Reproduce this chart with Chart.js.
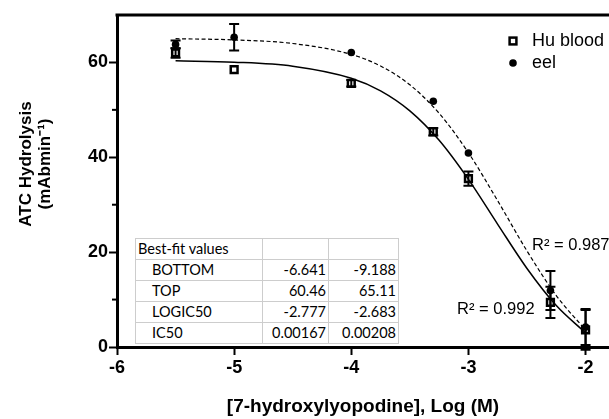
<!DOCTYPE html>
<html>
<head>
<meta charset="utf-8">
<script src="https://cdn.jsdelivr.net/npm/chart.js@4/dist/chart.umd.min.js"></script>
<style>
  html, body { margin: 0; padding: 0; background: #fff; overflow: hidden; }
  #wrap { position: relative; width: 609px; height: 419px; }
  #fitTable {
    position: absolute; left: 135px; top: 238px;
    border-collapse: collapse; table-layout: fixed; width: 263px;
    font-family: Lato, "Open Sans", sans-serif; font-size: 14.5px; color: #000;
    background: #fff;
  }
  #fitTable td { border: 1.5px solid #cdcdcd; padding: 0 2px; height: 20px; line-height: 18px; white-space: nowrap; overflow: hidden; }
  #fitTable td.num { text-align: right; }
  #fitTable td.indent { padding-left: 16px; }
</style>
</head>
<body>
<div id="wrap">
  <canvas id="chart" width="609" height="419"></canvas>
  <table id="fitTable">
    <colgroup><col style="width:127px"><col style="width:66px"><col style="width:70px"></colgroup>
    <tbody></tbody>
  </table>
</div>
<script>
// measured points (log M) and activity
const doseX = [-5.5, -5, -4, -3.3, -3, -2.3, -2];
const huY   = [62.0, 58.5, 55.6, 45.4, 35.5, 9.4, 3.6];
const huErr = [1.0, 0, 0.7, 0.8, 1.5, 3.3, 4.2];
const eelY   = [63.8, 65.3, 62.1, 51.8, 40.9, 11.9, 4.2];
const eelErr = [0.8, 2.8, 0, 0, 0, 4.1, 3.8];

// fitted curves
const fitX     = [-5.5, -5, -4.5, -4, -3.75, -3.5, -3.25, -3, -2.75, -2.5, -2.25, -2];
const huFitY   = [60.33, 60.06, 59.21, 56.67, 54.01, 49.79, 43.57, 35.34, 25.87, 16.56, 8.73, 2.97];
const eelFitY  = [65.00, 64.75, 63.99, 61.69, 59.24, 55.28, 49.27, 40.95, 30.82, 20.25, 10.84, 3.58];

// best-fit table
const fitRowLabels = ['BOTTOM', 'TOP', 'LOGIC50', 'IC50'];
const huFitVals    = ['-6.641', '60.46', '-2.777', '0.00167'];
const eelFitVals   = ['-9.188', '65.11', '-2.683', '0.00208'];

// R² labels
const r2Text = ['R\u00B2 = 0.987', 'R\u00B2 = 0.992'];
const r2X = [-2.457, -3.097];
const r2Y = [21.5, 8.0];

const yTickLabels = [0, 20, 40, 60];
const minorY = [10, 30, 50];
const yTitle = ['ATC Hydrolysis', '(mAbmin\u207B\u00B9)'];

const ARIAL = '"Liberation Sans", Arial, sans-serif';

// table
const tbody = document.querySelector('#fitTable tbody');
tbody.innerHTML = '<tr><td>Best-fit values</td><td></td><td></td></tr>' +
  fitRowLabels.map((l, i) =>
    `<tr><td class="indent">${l}</td><td class="num">${huFitVals[i]}</td><td class="num">${eelFitVals[i]}</td></tr>`
  ).join('');

const toPts = (xs, ys) => xs.map((x, i) => ({ x: x, y: ys[i] }));

// error bars drawn through the library scales
const errorBars = {
  id: 'errorBars',
  afterDatasetsDraw(chart) {
    const ctx = chart.ctx;
    const xs = chart.scales.x, ys = chart.scales.y;
    [[huY, huErr], [eelY, eelErr]].forEach(([vals, errs]) => {
      vals.forEach((v, i) => {
        if (!errs[i]) return;
        const px = xs.getPixelForValue(doseX[i]);
        const top = ys.getPixelForValue(v + errs[i]);
        const bot = ys.getPixelForValue(v - errs[i]);
        ctx.save();
        ctx.strokeStyle = '#000';
        ctx.lineWidth = 2;
        ctx.beginPath();
        ctx.moveTo(px, top); ctx.lineTo(px, bot);
        ctx.moveTo(px - 5, top); ctx.lineTo(px + 5, top);
        ctx.moveTo(px - 5, bot); ctx.lineTo(px + 5, bot);
        ctx.stroke();
        ctx.restore();
      });
    });
  }
};

// top frame line, minor y ticks, y title, legend, R² labels
const extras = {
  id: 'extras',
  afterDraw(chart) {
    const ctx = chart.ctx;
    const a = chart.chartArea;
    const ys = chart.scales.y, xs = chart.scales.x;
    ctx.save();
    ctx.strokeStyle = '#000';
    ctx.lineWidth = 3;
    ctx.beginPath();
    ctx.moveTo(a.left - 1.5, a.top);
    ctx.lineTo(chart.width, a.top);
    ctx.stroke();

    ctx.lineWidth = 2;
    minorY.forEach(v => {
      const py = ys.getPixelForValue(v);
      ctx.beginPath();
      ctx.moveTo(a.left - 5, py);
      ctx.lineTo(a.left, py);
      ctx.stroke();
    });

    // y axis title, a bit above the middle as in the source
    ctx.fillStyle = '#000';
    ctx.save();
    ctx.translate(26, 164);
    ctx.rotate(-Math.PI / 2);
    ctx.font = 'bold 17px ' + ARIAL;
    ctx.textAlign = 'center';
    ctx.textBaseline = 'middle';
    ctx.fillText(yTitle[0], 0, 0);
    ctx.fillText(yTitle[1], 0, 19);
    ctx.restore();

    // legend
    const lx = a.right - 96, ly = a.top + 26;
    ctx.lineWidth = 2.5;
    ctx.strokeRect(lx - 3.4, ly - 3.4, 6.8, 6.8);
    ctx.beginPath();
    ctx.arc(lx, ly + 22, 3.8, 0, Math.PI * 2);
    ctx.fill();
    ctx.font = '18px ' + ARIAL;
    ctx.textBaseline = 'middle';
    ctx.textAlign = 'left';
    ctx.fillText('Hu blood', lx + 19, ly);
    ctx.fillText('eel', lx + 19, ly + 22);

    ctx.font = '16.5px ' + ARIAL;
    r2Text.forEach((t, i) => {
      ctx.fillText(t, xs.getPixelForValue(r2X[i]), ys.getPixelForValue(r2Y[i]));
    });
    ctx.restore();
  }
};

new Chart(document.getElementById('chart'), {
  type: 'scatter',
  data: {
    datasets: [
      {
        label: 'Hu blood',
        data: toPts(doseX, huY),
        pointStyle: 'rect',
        pointRadius: 4.8,
        pointBorderWidth: 2.5,
        borderColor: '#000',
        backgroundColor: 'rgba(0,0,0,0)'
      },
      {
        label: 'eel',
        data: toPts(doseX, eelY),
        pointStyle: 'circle',
        pointRadius: 3.8,
        pointBorderWidth: 0,
        borderColor: '#000',
        backgroundColor: '#000'
      },
      {
        label: 'Hu blood fit',
        data: toPts(fitX, huFitY),
        showLine: true,
        pointRadius: 0,
        borderColor: '#000',
        borderWidth: 1.5,
        cubicInterpolationMode: 'monotone'
      },
      {
        label: 'eel fit',
        data: toPts(fitX, eelFitY),
        showLine: true,
        pointRadius: 0,
        borderColor: '#000',
        borderWidth: 1.2,
        borderDash: [4, 2.5],
        cubicInterpolationMode: 'monotone'
      }
    ]
  },
  options: {
    responsive: false,
    animation: false,
    layout: { autoPadding: false, padding: { top: 15, left: 0, right: 0, bottom: 0 } },
    plugins: {
      legend: { display: false },
      tooltip: { enabled: false }
    },
    scales: {
      x: {
        type: 'linear',
        min: -6,
        max: -1.8,
        ticks: {
          stepSize: 1,
          includeBounds: false,
          color: '#000',
          padding: 2,
          font: { family: ARIAL, size: 18, weight: 'bold' }
        },
        grid: { drawOnChartArea: false, drawTicks: true, tickLength: 8, tickWidth: 2, tickColor: '#000' },
        border: { display: true, color: '#000', width: 3 },
        title: {
          display: true,
          text: '[7-hydroxylyopodine], Log (M)',
          color: '#000',
          font: { family: ARIAL, size: 19, weight: 'bold' },
          padding: { top: 0, bottom: 1 }
        },
        afterFit: s => { s.height = 72; }
      },
      y: {
        min: 0,
        max: 70,
        ticks: {
          stepSize: 10,
          color: '#000',
          padding: 1,
          font: { family: ARIAL, size: 18, weight: 'bold' },
          callback: v => yTickLabels.includes(v) ? v : ''
        },
        grid: {
          drawOnChartArea: false,
          drawTicks: true,
          tickLength: 8,
          tickWidth: 2,
          tickColor: c => yTickLabels.includes(c.tick.value) ? '#000' : 'rgba(0,0,0,0)'
        },
        border: { display: true, color: '#000', width: 3 },
        title: { display: false },
        afterFit: s => { s.width = 117; }
      }
    }
  },
  plugins: [errorBars, extras]
});
</script>
</body>
</html>
